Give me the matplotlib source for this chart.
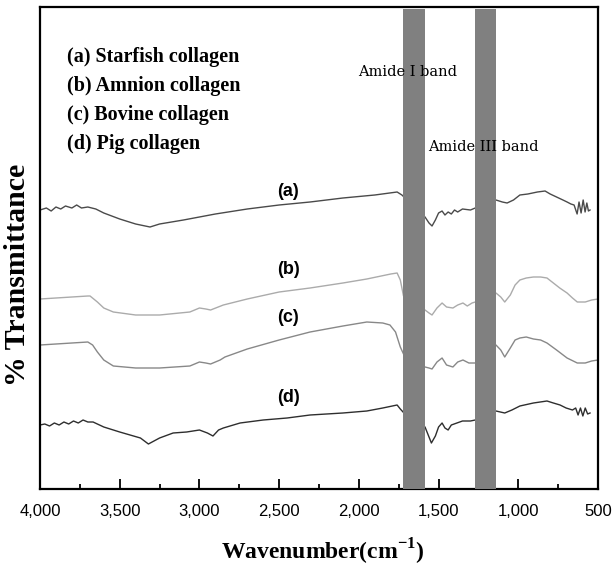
import numpy as np
import matplotlib
matplotlib.use("Agg")
import matplotlib.pyplot as plt

# FTIR spectra (wavenumber, relative transmittance, arbitrary units)
wn_a = [4000, 3960, 3930, 3900, 3870, 3840, 3800, 3770, 3740, 3700, 3650, 3600, 3500, 3400, 3310,
        3250, 3100, 2900, 2700, 2500, 2306, 2100, 1900, 1760, 1730, 1717, 1600, 1585, 1560, 1541,
        1520, 1500, 1478, 1460, 1440, 1420, 1400, 1380, 1350, 1300, 1270, 1140, 1100, 1070, 1030,
        990, 940, 880, 832, 800, 760, 720, 694, 670, 650, 631, 619, 606, 593, 581, 570, 560, 550]
pix_a = [210, 208, 211, 207, 209, 206, 208, 205, 208, 207, 209, 213, 219, 224, 227,
         224, 220, 214, 209, 205, 202, 198, 195, 192, 195, 197, 215, 217, 223, 226,
         220, 213, 211, 215, 212, 214, 210, 212, 209, 210, 208, 200, 202, 203, 200,
         195, 194, 192, 191, 194, 197, 200, 202, 204, 205, 214, 202, 213, 200, 212, 203, 211, 210]

wn_b = [4000, 3900, 3800, 3700, 3686, 3640, 3600, 3540, 3400, 3250, 3060, 3000, 2960, 2930, 2850,
        2700, 2500, 2306, 2100, 1950, 1800, 1760, 1740, 1720, 1585, 1560, 1541, 1510, 1478, 1450,
        1410, 1380, 1347, 1320, 1290, 1270, 1140, 1110, 1085, 1050, 1020, 990, 950, 905, 860, 820,
        780, 740, 694, 660, 630, 580, 540, 500]
pix_b = [299, 298, 297, 296, 296, 302, 308, 312, 315, 315, 312, 308, 309, 310, 305,
         299, 292, 288, 283, 279, 274, 273, 280, 296, 310, 313, 315, 308, 303, 307,
         308, 305, 303, 306, 303, 302, 293, 297, 302, 295, 285, 280, 278, 277, 277, 278,
         283, 288, 293, 298, 302, 302, 300, 299]

wn_c = [4000, 3900, 3800, 3700, 3670, 3640, 3600, 3540, 3400, 3250, 3060, 3000, 2960, 2930, 2870,
        2840, 2700, 2500, 2306, 2100, 1950, 1850, 1805, 1770, 1740, 1717, 1585, 1560, 1541, 1510,
        1478, 1450, 1410, 1380, 1347, 1310, 1270, 1140, 1110, 1085, 1050, 1020, 990, 950, 905,
        860, 820, 760, 694, 630, 580, 540, 500]
pix_c = [345, 344, 343, 342, 345, 352, 360, 366, 368, 368, 366, 362, 363, 364, 360,
         357, 349, 340, 332, 326, 322, 323, 325, 332, 347, 355, 367, 368, 369, 362,
         358, 365, 367, 362, 360, 363, 363, 345, 350, 357, 348, 340, 338, 337, 339,
         340, 343, 350, 358, 363, 363, 361, 360]

wn_d = [4000, 3970, 3940, 3910, 3880, 3850, 3820, 3790, 3760, 3730, 3700, 3667, 3600, 3500, 3370,
        3320, 3250, 3165, 3080, 3000, 2950, 2915, 2880, 2850, 2745, 2600, 2450, 2306, 2100, 1950,
        1850, 1760, 1740, 1717, 1585, 1560, 1545, 1520, 1500, 1478, 1460, 1440, 1420, 1385, 1350,
        1300, 1270, 1140, 1085, 1040, 990, 905, 820, 780, 738, 700, 660, 640, 625, 610, 595, 580,
        565, 550]
pix_d = [425, 424, 426, 423, 425, 422, 424, 421, 423, 420, 422, 422, 427, 432, 438,
         444, 438, 433, 432, 430, 433, 436, 430, 428, 423, 420, 418, 415, 413, 411,
         408, 405, 409, 413, 427, 437, 443, 436, 427, 423, 428, 430, 425, 423, 421,
         421, 420, 411, 413, 410, 406, 403, 401, 403, 405, 408, 410, 408, 415, 408, 416, 408,
         414, 413]

names = ["(a) Starfish collagen", "(b) Amnion collagen", "(c) Bovine collagen", "(d) Pig collagen"]
tags = ["(a)", "(b)", "(c)", "(d)"]
colors = ["#4a4a4a", "#ababab", "#888888", "#2e2e2e"]

xticks = [4000, 3500, 3000, 2500, 2000, 1500, 1000, 500]
xticklabels = ["4,000", "3,500", "3,000", "2,500", "2,000", "1,500", "1,000", "500"]
bands = [(1720, 1585), (1270, 1140)]

# pixel rows from the picture -> height above the x axis
base = 489
series = [(wn_a, pix_a), (wn_b, pix_b), (wn_c, pix_c), (wn_d, pix_d)]

fig = plt.figure(figsize=(6.13, 5.69), dpi=100)
ax = fig.add_axes([40 / 613, 80 / 569, 558 / 613, 482 / 569])

for (wn, pix), col in zip(series, colors):
    ax.plot(wn, base - np.array(pix), color=col, lw=1.0, zorder=2)

for hi, lo in bands:
    ax.axvspan(lo, hi, ymin=0, ymax=0.996, color="#808080", lw=0, zorder=3)

ax.set_xlim(4000, 500)
ax.set_ylim(0, 482)
ax.set_xticks(xticks)
ax.set_xticklabels(xticklabels, fontfamily="Liberation Sans", fontsize=12)
ax.set_xticks(np.arange(3750, 500, -500), minor=True)
ax.set_yticks([])
ax.tick_params(axis="x", which="major", direction="in", length=7, width=1.3, pad=11)
ax.tick_params(axis="x", which="minor", direction="in", length=3.5, width=1.3)
for s in ax.spines.values():
    s.set_linewidth(1.6)

serif_b = dict(fontfamily="Liberation Serif", fontweight="bold")
ax.set_xlabel("Wavenumber(cm$^{\\mathregular{-1}}$)", fontsize=17, **serif_b)
ax.xaxis.set_label_coords(0.507, -0.100)
ax.set_ylabel("% Transmittance", fontsize=21.5, va="center", **serif_b)
ax.yaxis.set_label_coords(-0.041, 0.444)

# legend text block
for i, t in enumerate(names):
    ax.text(3830, 432 - 29 * i, t, fontsize=14.5, ha="left", va="center", **serif_b)

# curve tags
for t, y in zip(tags, [297, 219, 171, 91]):
    ax.text(2444, y, t, fontsize=13, fontfamily="Liberation Sans", fontweight="bold",
            ha="center", va="center", zorder=5)

ax.text(2005, 417, "Amide I band", fontsize=10.5, fontfamily="DejaVu Serif",
        ha="left", va="center", zorder=5)
ax.text(1566, 342, "Amide III band", fontsize=10.5, fontfamily="DejaVu Serif",
        ha="left", va="center", zorder=5)

fig.savefig("out.png", dpi=100)
